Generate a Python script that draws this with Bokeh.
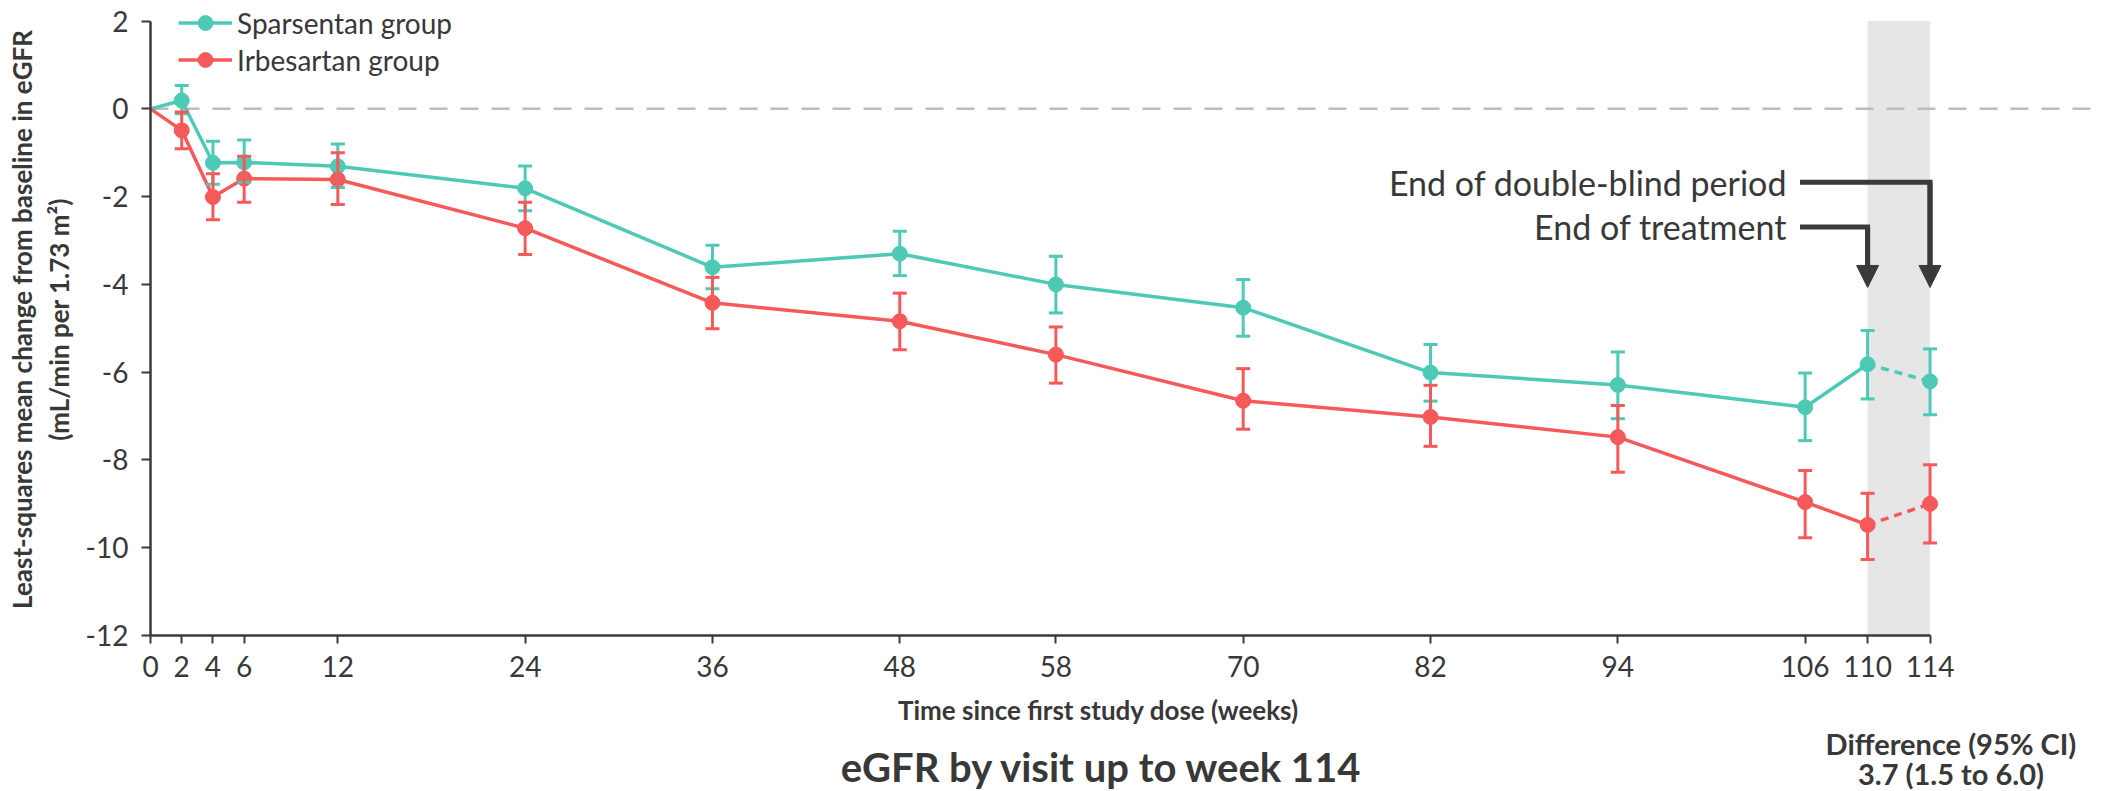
import numpy as np
from bokeh.plotting import figure
from bokeh.layouts import column
from bokeh.core.properties import value
from bokeh.models import (ColumnDataSource, Range1d, FixedTicker, Whisker, TeeHead, LinearAxis,
                          BoxAnnotation, Span, Label, Legend, LegendItem, Arrow, NormalHead)
from bokeh.embed import file_html
from bokeh.resources import INLINE

# ---------------- data ----------------
weeks = [0, 2, 4, 6, 12, 24, 36, 48, 58, 70, 82, 94, 106, 110, 114]
tick_weeks = [0, 2, 4, 6, 12, 24, 36, 48, 58, 70, 82, 94, 106, 110, 114]
y_ticks = [-12, -10, -8, -6, -4, -2, 0, 2]

spars_mean = [0, 0.19, -1.23, -1.22, -1.31, -1.81, -3.61, -3.30, -4.00, -4.53, -6.01, -6.29, -6.80, -5.82, -6.21]
spars_lo = [-0.11, -1.72, -1.67, -1.79, -2.32, -4.10, -3.80, -4.65, -5.18, -6.66, -7.06, -7.56, -6.61, -6.97]
spars_hi = [0.53, -0.74, -0.71, -0.80, -1.30, -3.11, -2.79, -3.36, -3.89, -5.37, -5.54, -6.02, -5.05, -5.47]

irb_mean = [0, -0.49, -2.01, -1.59, -1.61, -2.72, -4.42, -4.84, -5.60, -6.65, -7.02, -7.48, -8.96, -9.48, -9.00]
irb_lo = [-0.91, -2.53, -2.13, -2.18, -3.32, -5.01, -5.49, -6.25, -7.30, -7.69, -8.28, -9.77, -10.27, -9.89]
irb_hi = [-0.07, -1.48, -1.08, -1.00, -2.13, -3.84, -4.20, -4.97, -5.92, -6.30, -6.76, -8.24, -8.76, -8.11]

series_names = ["Sparsentan group", "Irbesartan group"]

# ---------------- styling ----------------
FONT = "Lato"
TEXT = "#383838"
AXIS = "#3a3a3a"
TEAL = "#4EC9B5"
RED = "#F65959"

W = 2126
p = figure(width=W, height=693,
           min_border_left=150, min_border_right=31,
           min_border_top=3, min_border_bottom=58,
           x_range=Range1d(0, 124.6), y_range=Range1d(-12, 2.4),
           output_backend="svg", toolbar_location=None)
p.background_fill_color = "white"
p.border_fill_color = "white"
p.outline_line_color = None
p.xgrid.visible = False
p.ygrid.visible = False

for ax in (p.xaxis[0], p.yaxis[0]):
    ax.axis_line_color = AXIS
    ax.axis_line_width = 2.5
    ax.major_tick_line_color = AXIS
    ax.major_tick_line_width = 2
    ax.major_tick_in = 0
    ax.minor_tick_line_color = None
    ax.major_label_text_font = FONT
    ax.major_label_text_font_size = "28px"
    ax.major_label_text_color = TEXT

p.xaxis.ticker = FixedTicker(ticks=tick_weeks)
p.xaxis.bounds = (0, 114)
p.xaxis.major_tick_out = 8
p.xaxis.major_label_standoff = 12
p.yaxis.ticker = FixedTicker(ticks=y_ticks)
p.yaxis.bounds = (-12, 2)
p.yaxis.major_tick_out = 9
p.yaxis.major_label_standoff = 13
p.yaxis.major_label_overrides = {v: str(v) for v in y_ticks}

# y axis title: two lines (inner line on default axis, outer on an extra axis)
p.yaxis.axis_label = "(mL/min per 1.73 m\u00b2)"
p.yaxis.axis_label_standoff = 8
p.yaxis.axis_label_text_font = FONT
p.yaxis.axis_label_text_font_style = "bold"
p.yaxis.axis_label_text_font_size = "26px"
p.yaxis.axis_label_text_color = TEXT

outer = LinearAxis(ticker=FixedTicker(ticks=[]), axis_line_color=None,
                   major_tick_out=0, major_tick_in=0, major_label_standoff=0,
                   minor_tick_line_color=None, major_tick_line_color=None,
                   axis_label="Least-squares mean change from baseline in eGFR",
                   axis_label_standoff=2, axis_label_text_font=FONT,
                   axis_label_text_font_style="bold", axis_label_text_font_size="26px",
                   axis_label_text_color=TEXT)
p.add_layout(outer, "left")

# shaded band week 110-114
p.add_layout(BoxAnnotation(left=110, right=114, bottom=-12, top=2,
                           fill_color="#E6E6E6", fill_alpha=1, line_color=None,
                           level="underlay"))
# zero reference
p.add_layout(Span(location=0, dimension="width", line_color="#BDBDBD",
                  line_width=2.5, line_dash="18 13", level="underlay"))

def draw(mean, lo, hi, color):
    solid = p.line(weeks[:-1], mean[:-1], line_color=color, line_width=3.5)
    p.line(weeks[-2:], mean[-2:], line_color=color, line_width=3.5, line_dash="8 6")
    src = ColumnDataSource(dict(x=weeks[1:], lo=lo, hi=hi))
    p.add_layout(Whisker(source=src, base="x", lower="lo", upper="hi",
                         line_color=color, line_width=3, level="glyph",
                         upper_head=TeeHead(size=14, line_color=color, line_width=3),
                         lower_head=TeeHead(size=14, line_color=color, line_width=3)))
    pts = p.scatter(weeks[1:], mean[1:], size=15, fill_color=color, line_color=color)
    return solid, pts

s_line, s_pts = draw(spars_mean, spars_lo, spars_hi, TEAL)
i_line, i_pts = draw(irb_mean, irb_lo, irb_hi, RED)

legend = Legend(items=[LegendItem(label=series_names[0], renderers=[s_line, s_pts]),
                       LegendItem(label=series_names[1], renderers=[i_line, i_pts])],
                location=(28, 557), glyph_width=54, glyph_height=37, label_height=37,
                label_standoff=5, spacing=0, padding=0, margin=0,
                label_text_font=FONT, label_text_font_size="28px", label_text_color=TEXT,
                background_fill_alpha=0, border_line_alpha=0)
p.add_layout(legend)

# annotations with arrows
ann_kw = dict(text_font=FONT, text_color=TEXT, text_align="right",
              text_baseline="middle", text_font_size="34px")
p.add_layout(Label(x=104.84, y=-1.67, text="End of double-blind period", **ann_kw))
p.add_layout(Label(x=104.84, y=-2.69, text="End of treatment", **ann_kw))

for yy, xx in ((-1.67, 114), (-2.69, 110)):
    p.line([105.67, xx, xx], [yy, yy, -3.7], line_color=AXIS, line_width=5,
           line_join="miter")
    p.add_layout(Arrow(x_start=xx, y_start=yy, x_end=xx, y_end=-4.07,
                       line_color=AXIS, line_width=5,
                       end=NormalHead(size=22, fill_color=AXIS, line_color=AXIS,
                                      line_width=1)))

# ---------------- texts below the chart ----------------
H2 = 98
q = figure(width=W, height=H2, x_range=Range1d(0, W), y_range=Range1d(0, H2),
           x_axis_type=None, y_axis_type=None, min_border=0,
           output_backend="svg", toolbar_location=None)
q.outline_line_color = None
q.xgrid.visible = False
q.ygrid.visible = False
q.background_fill_color = "white"
q.border_fill_color = "white"

bottom_texts = ["Time since first study dose (weeks)", "eGFR by visit up to week 114",
                "Difference (95% CI)", "3.7 (1.5 to 6.0)"]
txt_src = ColumnDataSource(dict(
    x=[1036, 1040, 1968, 1968],
    y=[82, 25, 48, 18],
    text=bottom_texts,
    size=["26px", "40px", "29px", "29px"],
))
q.text(x="x", y="y", text="text", source=txt_src, text_font=value(FONT),
       text_font_style="bold", text_font_size="size", text_color=TEXT,
       text_align="center", text_baseline="middle")

layout = column(p, q, spacing=0)
open("out.html", "w").write(file_html(layout, INLINE))
